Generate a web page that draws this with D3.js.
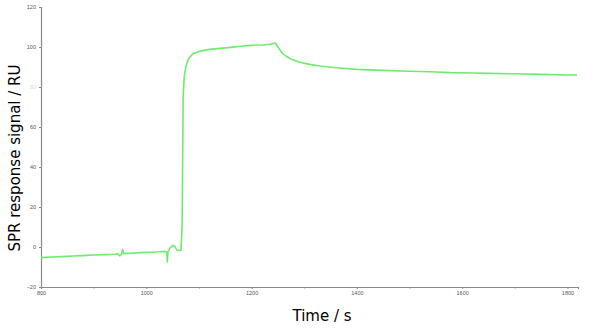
<!DOCTYPE html>
<html><head><meta charset="utf-8">
<script src="https://cdn.jsdelivr.net/npm/d3@7"></script>
<style>body{margin:0;background:#fff}svg{display:block}</style>
</head><body><svg id="c" width="600" height="333"></svg>
<script>
const times = [800,820,840,860,880,900,920,940,946,950,953,955,957,970,990,1010,1025,1035,1039,1040,1041,1045,1050,1054,1058,1063,1066,1068,1069,1070,1072,1075,1080,1088,1100,1120,1140,1160,1180,1200,1220,1235,1245,1250,1258,1265,1275,1290,1310,1330,1360,1400,1450,1500,1540,1577,1620,1650,1700,1750,1800,1818];
const signal = [-5.3,-5.0,-4.8,-4.5,-4.3,-4.0,-3.8,-3.6,-3.4,-4.4,-3.5,-1.2,-3.3,-3.1,-2.8,-2.6,-2.4,-2.2,-2.5,-7.5,-2.5,-0.5,0.8,0.5,-1.5,-1.8,-1.5,10,40,75,85,90,94,96.5,97.8,98.8,99.3,99.8,100.4,100.8,101.0,101.4,102,100,97,95.5,94,92.5,91.3,90.5,89.6,88.8,88.3,87.9,87.6,87.2,87.0,86.8,86.6,86.3,86.0,86.0];
const xTicks = [800,1000,1200,1400,1600,1800];
const xMinor = [900,1100,1300,1500,1700];
const yTicks = [-20,0,20,40,60,80,100,120];

const svg = d3.select("#c");
const x = d3.scaleLinear().domain([800,1820]).range([41,578]);
const y = d3.scaleLinear().domain([-20,120]).range([287,7]);

const axisColor = "#8a8a8a";
svg.append("g").attr("transform","translate(0,287)")
  .call(d3.axisBottom(x).tickValues(xTicks).tickSize(2).tickPadding(2).tickFormat(d3.format("d")));
svg.append("g").attr("transform","translate(0,287)")
  .call(d3.axisBottom(x).tickValues(xMinor).tickSize(1.5).tickFormat(""))
  .call(g=>g.select(".domain").remove());
const gy = svg.append("g").attr("transform","translate(41,0)")
  .call(d3.axisLeft(y).tickValues(yTicks).tickSize(2).tickPadding(3).tickFormat(d3.format("d")));
svg.selectAll(".domain").attr("stroke",axisColor).attr("stroke-width",1.2);
svg.selectAll(".tick line").attr("stroke",axisColor);
svg.selectAll(".tick text").attr("fill","#555").style("font-size","5.5px").style("font-family","Liberation Sans, Arial, sans-serif");
gy.selectAll(".tick text").filter(d=>d===80).attr("fill","#ddd");

const line = d3.line().x((d,i)=>x(times[i])).y(d=>y(d));
svg.append("path").datum(signal).attr("d",line)
  .attr("fill","none").attr("stroke","#6fea6f").attr("stroke-width",1.6).attr("stroke-linejoin","round");

svg.append("text").attr("transform","translate(20,158) rotate(-90)")
  .attr("text-anchor","middle").style("font-family","DejaVu Sans, sans-serif").style("font-size","15px")
  .text("SPR response signal / RU");
svg.append("text").attr("x",322).attr("y",321)
  .attr("text-anchor","middle").style("font-family","DejaVu Sans, sans-serif").style("font-size","15px")
  .text("Time / s");
</script></body></html>
